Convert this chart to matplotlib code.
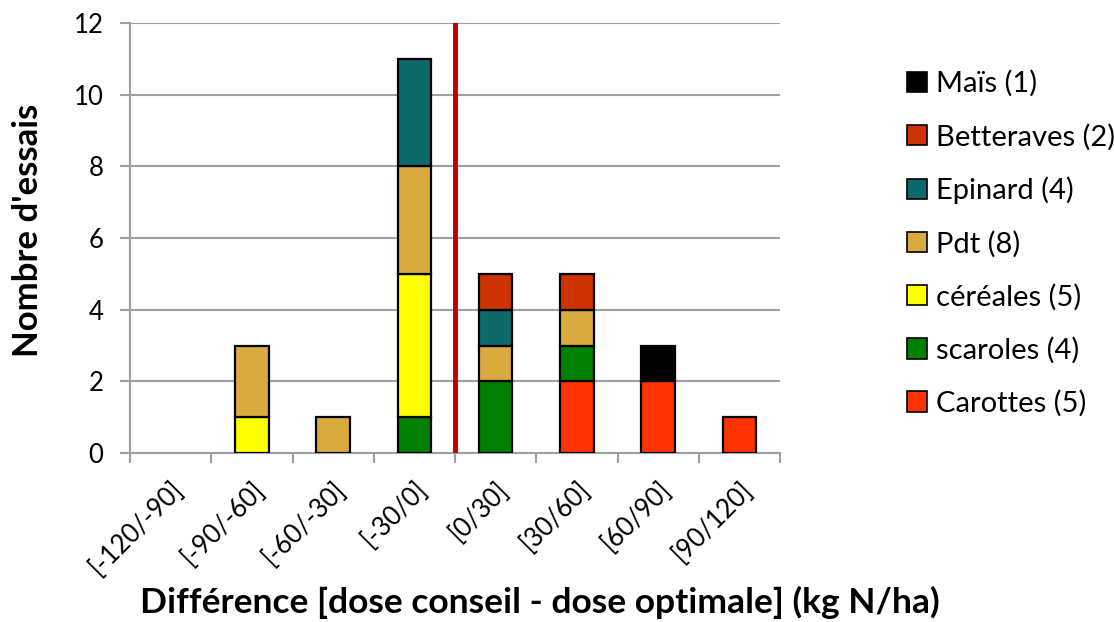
import matplotlib
matplotlib.use("Agg")
import matplotlib.pyplot as plt
import numpy as np

plt.rcParams['font.family'] = ['Lato', 'DejaVu Sans']

categories = ['[-120/-90]', '[-90/-60]', '[-60/-30]', '[-30/0]',
              '[0/30]', '[30/60]', '[60/90]', '[90/120]']

# stacked bottom -> top
carottes   = [0, 0, 0, 0, 0, 2, 2, 1]
scaroles   = [0, 0, 0, 1, 2, 1, 0, 0]
cereales   = [0, 1, 0, 4, 0, 0, 0, 0]
pdt        = [0, 2, 1, 3, 1, 1, 0, 0]
epinard    = [0, 0, 0, 3, 1, 0, 0, 0]
betteraves = [0, 0, 0, 0, 1, 1, 0, 0]
mais       = [0, 0, 0, 0, 0, 0, 1, 0]

series = [
    ('Carottes (5)', carottes, '#FF3300'),
    ('scaroles (4)', scaroles, '#008000'),
    ('céréales (5)', cereales, '#FFFF00'),
    ('Pdt (8)', pdt, '#D9AA3E'),
    ('Epinard (4)', epinard, '#0C6A6C'),
    ('Betteraves (2)', betteraves, '#CC3300'),
    ('Maïs (1)', mais, '#000000'),
]

fig = plt.figure(figsize=(11.14, 6.22), dpi=100)
ax = fig.add_axes([0.1167, 0.2717, 0.5835, 0.6913])

x = np.arange(len(categories)) + 0.5
bottom = np.zeros(len(categories))
handles = []
for name, vals, col in series:
    v = np.array(vals, dtype=float)
    m = v > 0
    ax.bar(x[m], v[m], width=0.41, bottom=bottom[m], color=col,
           edgecolor='black', linewidth=1.6, zorder=3)
    handles.append(plt.Rectangle((0, 0), 1, 1, facecolor=col,
                                 edgecolor='black', linewidth=1.2, label=name))
    bottom += v

ax.set_xlim(0, len(categories))
ax.set_ylim(0, 12)
ax.set_yticks(np.arange(0, 13, 2))
ax.yaxis.grid(True, color='#A0A0A0', linewidth=1.5, zorder=0)
ax.set_axisbelow(True)

# boundary ticks (marks only) and centered labels
ax.set_xticks(np.arange(0, len(categories) + 1))
ax.set_xticklabels([])
ax.set_xticks(x, minor=True)
ax.set_xticklabels(categories, minor=True, rotation=45, ha='right',
                   rotation_mode='anchor', fontsize=18.5)
ax.tick_params(axis='x', which='minor', length=0, pad=17)
ax.tick_params(axis='x', which='major', length=7, width=1.5, color='#A0A0A0')
ax.tick_params(axis='y', length=7, width=1.5, color='#A0A0A0', labelsize=18.5, pad=12)

for s in ['top', 'right']:
    ax.spines[s].set_visible(False)
for s in ['left', 'bottom']:
    ax.spines[s].set_color('#A0A0A0')
    ax.spines[s].set_linewidth(1.5)

ax.axvline(4, color='#C00000', linewidth=3.5, zorder=4)

fig.text(0.025, 0.629, "Nombre d'essais", fontsize=25, fontweight='bold',
         rotation=90, ha='center', va='center')
fig.text(0.485, 0.031, 'Différence [dose conseil - dose optimale] (kg N/ha)',
         fontsize=25.5, fontweight='bold', ha='center', va='center')

leg = ax.legend(handles=handles[::-1], loc='upper left',
                bbox_to_anchor=(1.195, 0.89), frameon=False, fontsize=21,
                handlelength=0.7, handleheight=0.7, handletextpad=0.3,
                labelspacing=0.9, borderaxespad=0, borderpad=0)

fig.savefig('out.png', dpi=100)
